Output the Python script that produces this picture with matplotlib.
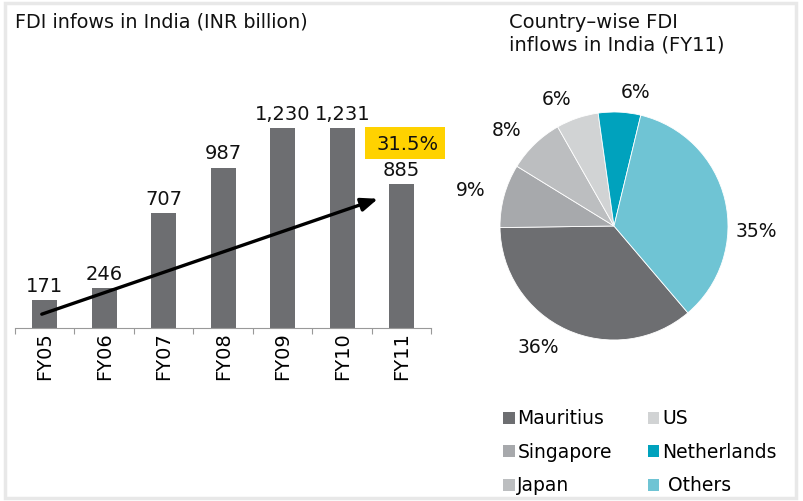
import matplotlib
matplotlib.use("Agg")
import matplotlib.pyplot as plt
from matplotlib.patches import Rectangle, Patch

# FDI inflows in India (INR billion)
years = ["FY05", "FY06", "FY07", "FY08", "FY09", "FY10", "FY11"]
inflows = [171, 246, 707, 987, 1230, 1231, 885]
growth_label = "31.5%"

# Country-wise FDI share, FY11 (%)
countries = ["Mauritius", "Singapore", "Japan", "US", "Netherlands", "Others"]
shares = [36, 9, 8, 6, 6, 35]
pie_colors = ["#6d6e71", "#a7a9ac", "#bcbec0", "#d1d3d4", "#00a2bd", "#6fc4d4"]

plt.rcParams["font.family"] = "DejaVu Sans"
W, H = 804, 501
fig = plt.figure(figsize=(W / 100, H / 100), dpi=100)

def fx(px):
    return px / W

def fy(py):
    return 1 - py / H

# light grey frame round the whole graphic
fig.patches.append(Rectangle((fx(5), fy(498)), fx(791), 495 / H, transform=fig.transFigure,
                             fill=False, edgecolor="#e8e8e8", lw=2.5))

# ---- bar chart ----
ax = fig.add_axes([fx(15), fy(328), fx(416.5), 227.6 / H])
xs = range(len(years))
ax.bar(xs, inflows, width=0.42, color="#6d6e71")
ax.set_xlim(-0.5, len(years) - 0.5)
ax.set_ylim(0, 1400)
for x, v in zip(xs, inflows):
    ax.text(x, v + 25, f"{v:,}", ha="center", va="bottom", fontsize=14, color="#111111")
ax.set_xticks([i - 0.5 for i in range(len(years) + 1)], minor=False)
ax.set_xticklabels([])
ax.set_xticks(list(xs), minor=True)
ax.set_xticklabels(years, minor=True, rotation=90, fontsize=14)
ax.tick_params(axis="x", which="major", length=4, color="#999999", direction="out")
ax.tick_params(axis="x", which="minor", length=0, pad=3)
ax.set_yticks([])
for s in ["top", "right", "left"]:
    ax.spines[s].set_visible(False)
ax.spines["bottom"].set_color("#999999")
ax.patch.set_alpha(0)

# trend arrow
ax.annotate("", xy=(5.6, 795), xytext=(-0.05, 85),
            arrowprops=dict(arrowstyle="-|>,head_length=1.0,head_width=0.4",
                            color="black", lw=2.4, shrinkA=0, shrinkB=0))

# yellow growth box
fig.patches.append(Rectangle((fx(365), fy(159)), fx(80), 32 / H, transform=fig.transFigure,
                             facecolor="#ffd200", edgecolor="none"))
fig.text(fx(408), fy(144), growth_label, ha="center", va="center", fontsize=14, color="#111111")

fig.text(fx(15), fy(22), "FDI infows in India (INR billion)", ha="left", va="center",
         fontsize=13.8, color="#111111")

# ---- pie chart ----
R = 114
cx, cy = 614, 226
pax = fig.add_axes([fx(cx - R), fy(cy + R), fx(2 * R), 2 * R / H])
wedges, texts = pax.pie(shares, colors=pie_colors, startangle=-49.6, counterclock=False,
                        labels=[f"{s}%" for s in shares], labeldistance=1.17,
                        wedgeprops=dict(edgecolor="white", linewidth=0.6),
                        textprops=dict(fontsize=13.5, color="#111111"))
pax.set_xlim(-1, 1)
pax.set_ylim(-1, 1)
pax.set_aspect("equal")
# Excel-style placement of the "Others" label
texts[-1].set_position((1.25, -0.05))
texts[-1].set_ha("center")

fig.text(fx(509), fy(22), "Country\u2013wise FDI", ha="left", va="center", fontsize=14, color="#111111")
fig.text(fx(509), fy(45), "inflows in India (FY11)", ha="left", va="center", fontsize=14, color="#111111")

# legend, two columns (filled column-wise)
handles = [Patch(facecolor=c, edgecolor="none") for c in pie_colors]
names = [c if c != "Others" else " Others" for c in countries]
fig.legend(handles, names, loc="upper left", bbox_to_anchor=(fx(494), fy(400)), ncol=2,
           frameon=False, fontsize=13.5, handlelength=0.6, handleheight=0.6, borderpad=0,
           handletextpad=0.15, columnspacing=1.93, labelspacing=0.77)

fig.savefig("out.png", dpi=100)
